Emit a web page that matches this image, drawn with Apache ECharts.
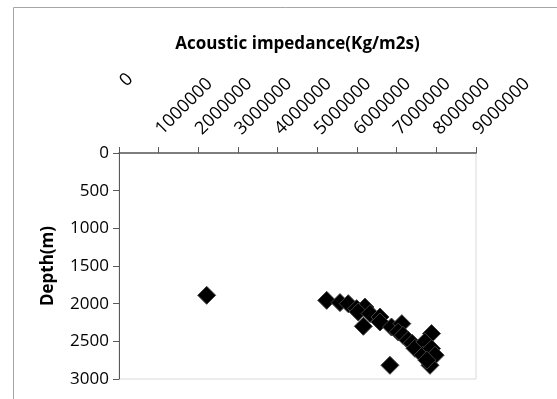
<!DOCTYPE html>
<html>
<head>
<meta charset="utf-8">
<script src="https://cdn.jsdelivr.net/npm/echarts@6/dist/echarts.min.js"></script>
<style>html,body{margin:0;padding:0;background:#fff;}#c{width:557px;height:399px;}</style>
</head>
<body>
<div id="c"></div>
<script>
// Data: acoustic impedance (Kg/m2s) vs depth (m)
var impedance = [2210000, 5236000, 5571000, 5780000, 5990000, 6200000, 6030000, 6160000, 6330000, 6580000, 6580000, 6870000, 7130000, 7040000, 7160000, 7290000, 7390000, 7460000, 6830000, 7880000, 7710000, 7660000, 7880000, 7970000, 7840000, 7760000];
var depth =     [1889,    1956,    1986,    2000,    2066,    2045,    2110,    2300,    2132,    2177,    2243,    2310,    2265,    2376,    2420,    2486,    2526,    2592,    2818,    2397,    2508,    2684,    2596,    2684,    2818,    2749];
var xTicks = [0, 1000000, 2000000, 3000000, 4000000, 5000000, 6000000, 7000000, 8000000, 9000000];
var yTicks = [0, 500, 1000, 1500, 2000, 2500, 3000];
var xTitle = 'Acoustic impedance(Kg/m2s)';
var yTitle = 'Depth(m)';

var points = impedance.map(function (v, i) { return [v, depth[i]]; });
var font = 'Open Sans';
var chart = echarts.init(document.getElementById('c'));
chart.setOption({
  animation: false,
  backgroundColor: '#fff',
  graphic: [{
    type: 'rect', silent: true,
    shape: { x: 13.5, y: 7.5, width: 700, height: 500 },
    style: { fill: 'none', stroke: '#a6a6a6', lineWidth: 1 }
  }],
  grid: { left: 119, top: 153, right: 81, bottom: 20, show: true, borderColor: '#d9d9d9', borderWidth: 1 },
  xAxis: {
    type: 'value', position: 'top',
    min: xTicks[0], max: xTicks[xTicks.length - 1], interval: xTicks[1] - xTicks[0],
    name: xTitle, nameLocation: 'middle', nameGap: 100,
    nameTextStyle: { fontFamily: font, fontWeight: 'bold', fontSize: 17, color: '#000' },
    axisLine: { lineStyle: { color: '#595959', width: 1.5 } },
    axisTick: { show: true, length: 6, lineStyle: { color: '#595959' } },
    splitLine: { show: false },
    axisLabel: {
      rotate: 45, margin: 21, fontFamily: font, fontSize: 18, color: '#000',
      formatter: function (v) { return v === 0 ? '{z|0}' : String(v); },
      rich: { z: { fontFamily: font, fontSize: 18, color: '#000', padding: [0, 0, 63, 37] } }
    }
  },
  yAxis: {
    type: 'value', inverse: true,
    min: yTicks[0], max: yTicks[yTicks.length - 1], interval: yTicks[1] - yTicks[0],
    name: yTitle, nameLocation: 'middle', nameGap: 62, nameRotate: 90,
    nameTextStyle: { fontFamily: font, fontWeight: 'bold', fontSize: 17, color: '#000' },
    axisLine: { show: true, lineStyle: { color: '#595959', width: 1 } },
    axisTick: { show: true, length: 6, lineStyle: { color: '#595959' } },
    splitLine: { show: false },
    axisLabel: { margin: 10, fontFamily: font, fontSize: 17, color: '#000', formatter: function (v) { return String(v); } }
  },
  series: [{
    type: 'scatter',
    symbol: 'diamond', symbolSize: 18,
    itemStyle: { color: '#000', borderColor: '#404040', borderWidth: 1, opacity: 1 },
    data: points
  }]
});
</script>
</body>
</html>
